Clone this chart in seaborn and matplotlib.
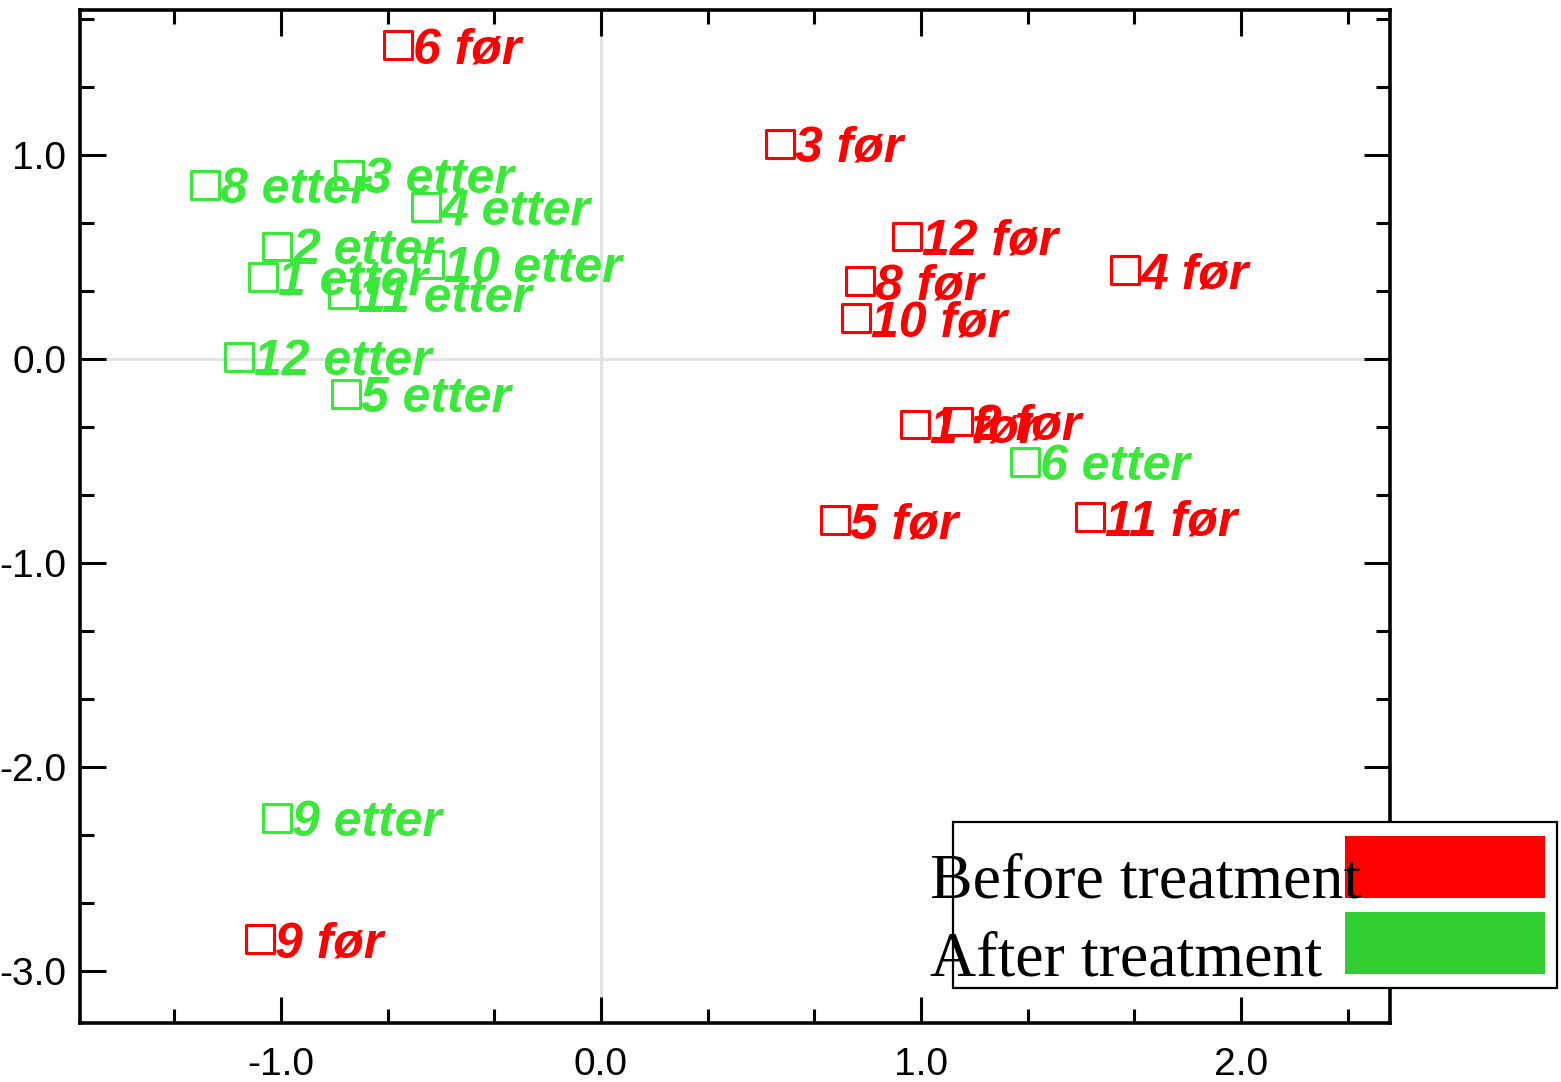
import matplotlib
matplotlib.use("Agg")
import matplotlib.pyplot as plt
from matplotlib.ticker import MultipleLocator, FormatStrFormatter
from matplotlib.patches import Rectangle
import seaborn as sns
import pandas as pd

# Score coordinates per subject, before ("før") and after ("etter") treatment
subjects = ["1", "2", "3", "4", "5", "6", "8", "9", "10", "11", "12"]
for_x = [0.981, 1.116, 0.559, 1.638, 0.731, -0.634, 0.809, -1.066, 0.797, 1.528, 0.956]
for_y = [-0.322, -0.307, 1.054, 0.434, -0.790, 1.537, 0.380, -2.844, 0.200, -0.776, 0.600]
etter_x = [-1.056, -1.012, -0.787, -0.547, -0.797, 1.325, -1.237, -1.012, -0.537, -0.806, -1.131]
etter_y = [0.400, 0.551, 0.902, 0.746, -0.171, -0.507, 0.854, -2.249, 0.463, 0.317, 0.010]

legend_labels = ["Before treatment", "After treatment"]
RED = "#ff0000"
GREEN_MARK = "#3ae83a"
GREEN_PATCH = "#32cd32"

df = pd.DataFrame({
    "x": for_x + etter_x,
    "y": for_y + etter_y,
    "label": [f"{s} før" for s in subjects] + [f"{s} etter" for s in subjects],
    "group": ["før"] * len(subjects) + ["etter"] * len(subjects),
})

sns.set_theme(style="white")
plt.rcParams["axes.unicode_minus"] = False

fig = plt.figure(figsize=(15.61, 10.82), dpi=100)
ax = fig.add_axes([80 / 1561, 59 / 1082, (1390 - 80) / 1561, (1023 - 10) / 1082])

# reference lines through the origin
ax.axhline(0, color="#e3e3e3", lw=2.2, zorder=0)
ax.axvline(0, color="#e3e3e3", lw=2.2, zorder=0)

palette = {"før": RED, "etter": GREEN_MARK}
sns.scatterplot(data=df, x="x", y="y", hue="group", palette=palette,
                marker="s", s=400, linewidth=2.2, legend=False, ax=ax, zorder=3)
coll = ax.collections[-1]
coll.set_edgecolors(coll.get_facecolors())
coll.set_facecolors("none")

for _, row in df.iterrows():
    ax.annotate(row["label"], (row["x"], row["y"]), xytext=(11, 0),
                textcoords="offset points", va="center_baseline", ha="left",
                fontsize=36, fontweight="bold", fontstyle="italic",
                family=["Liberation Sans", "DejaVu Sans"],
                color=palette[row["group"]], zorder=4)

ax.set_xlim(-1.628, 2.466)
ax.set_ylim(-3.255, 1.71)
ax.set_xlabel("")
ax.set_ylabel("")

ax.xaxis.set_major_locator(MultipleLocator(1.0))
ax.yaxis.set_major_locator(MultipleLocator(1.0))
ax.xaxis.set_minor_locator(MultipleLocator(1 / 3))
ax.yaxis.set_minor_locator(MultipleLocator(1 / 3))
ax.xaxis.set_major_formatter(FormatStrFormatter("%.1f"))
ax.yaxis.set_major_formatter(FormatStrFormatter("%.1f"))

ax.tick_params(which="both", direction="in", top=True, right=True,
               bottom=True, left=True, color="black", width=2.2)
ax.tick_params(which="major", length=19)
ax.tick_params(which="minor", length=10)
ax.tick_params(axis="x", which="major", pad=17)
ax.tick_params(axis="y", which="major", pad=10)
for lbl in ax.get_xticklabels() + ax.get_yticklabels():
    lbl.set_family(["Liberation Sans", "DejaVu Sans"])
    lbl.set_fontsize(28)
    lbl.set_color("black")

for sp in ax.spines.values():
    sp.set_visible(True)
    sp.set_color("black")
    sp.set_linewidth(2.6)

# legend box with coloured swatches, drawn in figure pixel coordinates
W, H = 1561, 1082
def fx(px):
    return px / W
def fy(py):
    return 1 - py / H

fig.patches.append(Rectangle((fx(953), fy(988)), fx(1557) - fx(953), fy(822) - fy(988),
                             transform=fig.transFigure, facecolor="white",
                             edgecolor="black", lw=1.6, zorder=5))
fig.patches.append(Rectangle((fx(1345), fy(898)), fx(1545) - fx(1345), fy(836) - fy(898),
                             transform=fig.transFigure, facecolor=RED,
                             edgecolor="none", zorder=6))
fig.patches.append(Rectangle((fx(1345), fy(974)), fx(1545) - fx(1345), fy(912) - fy(974),
                             transform=fig.transFigure, facecolor=GREEN_PATCH,
                             edgecolor="none", zorder=6))
fig.text(fx(930), fy(897), legend_labels[0], family=["Liberation Serif", "DejaVu Serif"],
         fontsize=46, color="black", va="baseline", ha="left", zorder=7)
fig.text(fx(930), fy(976), legend_labels[1], family=["Liberation Serif", "DejaVu Serif"],
         fontsize=46, color="black", va="baseline", ha="left", zorder=7)

fig.savefig("out.png", dpi=100, facecolor="white")
